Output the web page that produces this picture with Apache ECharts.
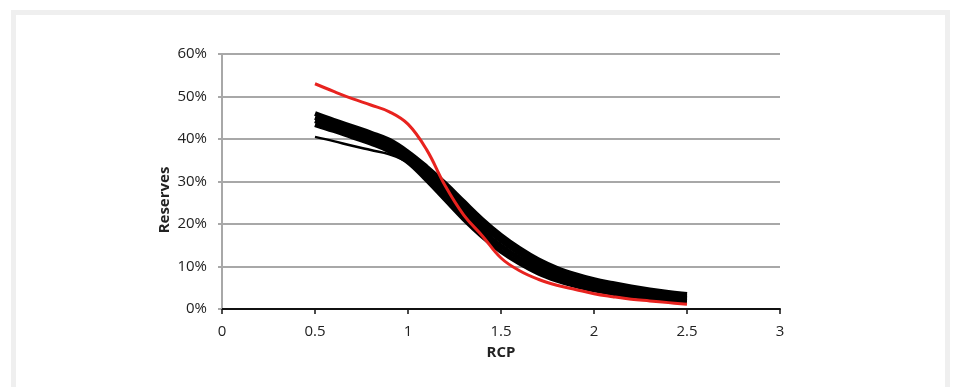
<!DOCTYPE html>
<html>
<head>
<meta charset="utf-8">
<script src="https://cdn.jsdelivr.net/npm/echarts@6/dist/echarts.min.js"></script>
<style>
  html, body { margin: 0; padding: 0; background: #fff; }
  #main { width: 957px; height: 387px; }
</style>
</head>
<body>
<div id="main"></div>
<script>
// RCP values shared by every series
var rcp = [0.5, 0.6, 0.7, 0.8, 0.9, 1.0, 1.1, 1.2, 1.3, 1.4, 1.5,
           1.6, 1.7, 1.8, 1.9, 2.0, 2.1, 2.2, 2.3, 2.4, 2.5];

// black bundle, read from top edge to bottom edge
var blackTop  = [46.0, 44.4, 42.9, 41.4, 39.7, 36.9, 33.4, 29.5, 25.2, 21.0, 17.3,
                 14.2, 11.6, 9.6, 8.1, 6.9, 6.0, 5.2, 4.5, 3.9, 3.4];
var blackMid1 = [45.1, 43.6, 42.1, 40.6, 38.9, 36.1, 32.4, 28.3, 23.9, 19.7, 16.1,
                 13.1, 10.6, 8.7, 7.2, 6.1, 5.2, 4.5, 3.9, 3.3, 2.9];
var blackMid2 = [44.3, 42.8, 41.3, 39.8, 38.0, 35.4, 31.4, 27.0, 22.5, 18.4, 14.8,
                 11.9, 9.5, 7.7, 6.4, 5.3, 4.5, 3.8, 3.2, 2.8, 2.4];
var blackBot  = [43.4, 42.0, 40.5, 39.0, 37.2, 34.6, 30.4, 25.8, 21.2, 17.1, 13.6,
                 10.8, 8.5, 6.8, 5.5, 4.5, 3.7, 3.1, 2.6, 2.2, 1.9];
// thin black line that starts lower and joins the bundle
var blackThin = [40.5, 39.5, 38.4, 37.4, 36.4, 34.4, 30.4, 25.8, 21.2, 17.1, 13.6,
                 10.8, 8.5, 6.8, 5.5, 4.5, 3.7, 3.1, 2.6, 2.2, 1.9];
// red line
var red = [53.0, 51.2, 49.5, 48.0, 46.4, 43.5, 37.5, 29.0, 22.1, 17.2, 12.0,
           9.0, 7.0, 5.6, 4.6, 3.6, 2.9, 2.3, 1.9, 1.5, 1.1];

var xTicks = [0, 0.5, 1, 1.5, 2, 2.5, 3];

function pairs(ys) {
    var out = [];
    for (var i = 0; i < rcp.length; i++) {
        out.push([rcp[i], ys[i] / 100]);
    }
    return out;
}

function line(ys, color, width) {
    return {
        type: 'line',
        data: pairs(ys),
        smooth: 0.4,
        showSymbol: false,
        silent: true,
        lineStyle: { color: color, width: width, cap: 'butt' }
    };
}

var myChart = echarts.init(document.getElementById('main'));

var option = {
    animation: false,
    backgroundColor: '#fff',
    grid: { left: 222, right: 177, top: 54, bottom: 78 },
    xAxis: {
        type: 'value',
        min: 0,
        max: 3,
        interval: 0.5,
        name: 'RCP',
        nameLocation: 'middle',
        nameGap: 36,
        nameTextStyle: { fontFamily: 'Open Sans', fontWeight: 'bold', fontSize: 15, color: '#222' },
        axisLine: { lineStyle: { color: '#111', width: 2 } },
        axisTick: { show: true, length: 5, lineStyle: { color: '#111', width: 1.5 } },
        axisLabel: {
            margin: 15,
            fontFamily: 'Open Sans',
            fontSize: 15,
            color: '#222',
            formatter: function(v) {
                return xTicks.indexOf(v) >= 0 ? String(v) : '';
            }
        },
        splitLine: { show: false }
    },
    yAxis: {
        type: 'value',
        min: 0,
        max: 0.6,
        interval: 0.1,
        axisLine: { show: true, lineStyle: { color: '#a8a8a8', width: 2 } },
        axisTick: { show: true, length: 4, lineStyle: { color: '#a8a8a8', width: 2 } },
        axisLabel: {
            margin: 15,
            fontFamily: 'Open Sans',
            fontSize: 15,
            color: '#222',
            formatter: function(v) {
                return Math.round(v * 100) + '%';
            }
        },
        splitLine: { show: true, lineStyle: { color: '#a8a8a8', width: 2 } }
    },
    graphic: [
        {
            type: 'rect',
            silent: true,
            shape: { x: 13.5, y: 12.5, width: 934, height: 400 },
            style: { fill: 'none', stroke: '#efefef', lineWidth: 5 }
        },
        {
            type: 'text',
            x: 165,
            y: 200,
            rotation: Math.PI / 2,
            style: {
                text: 'Reserves',
                fontFamily: 'Open Sans',
                fontWeight: 'bold',
                fontSize: 15,
                fill: '#222',
                align: 'center',
                verticalAlign: 'middle'
            }
        }
    ],
    series: [
        line(blackThin, '#000', 2.5),
        line(blackTop, '#000', 5),
        line(blackMid1, '#000', 5),
        line(blackMid2, '#000', 5),
        line(blackBot, '#000', 5),
        line(red, '#e8231f', 3)
    ]
};

myChart.setOption(option);
</script>
</body>
</html>
